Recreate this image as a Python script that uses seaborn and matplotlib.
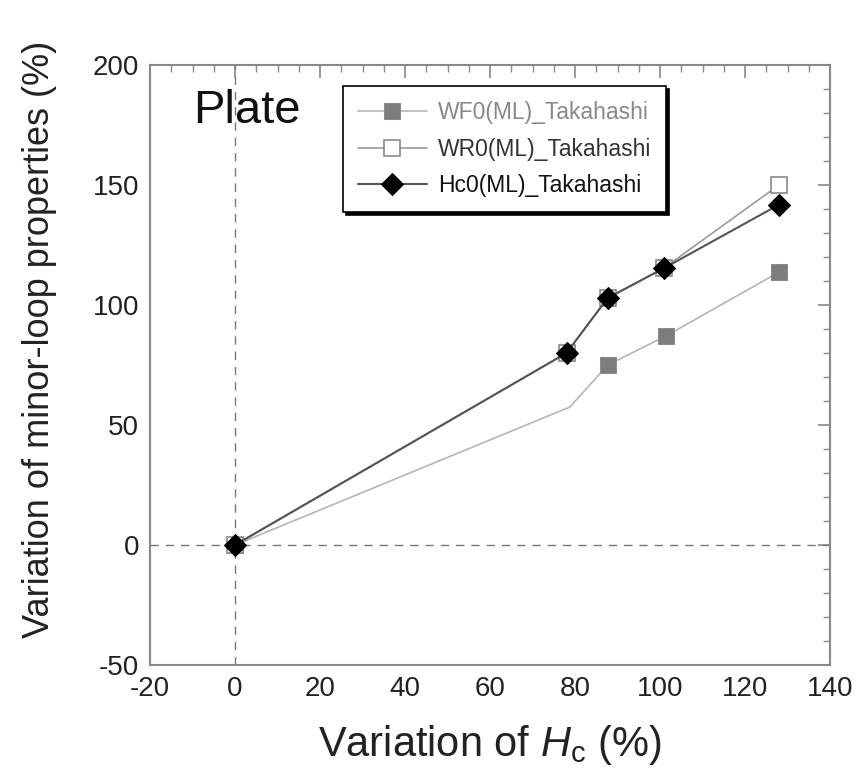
import matplotlib
matplotlib.use("Agg")
import matplotlib.pyplot as plt
from matplotlib.ticker import MultipleLocator
import seaborn as sns
import pandas as pd

# ---- data ----
wf0_x = [0, 78.8, 87.7, 101.3, 128.0]
wf0_y = [0, 57.5, 75.0, 87.0, 113.7]
wr0_x = [0, 78.0, 87.7, 101.0, 128.0]
wr0_y = [0, 80.0, 103.0, 115.5, 150.0]
hc0_x = [0, 78.0, 87.7, 101.0, 128.0]
hc0_y = [0, 80.0, 102.9, 115.4, 141.8]
series_names = ["WF0(ML)_Takahashi", "WR0(ML)_Takahashi", "Hc0(ML)_Takahashi"]
x_ticks = [-20, 0, 20, 40, 60, 80, 100, 120, 140]
y_ticks = [-50, 0, 50, 100, 150, 200]

sns.set_theme(style="white")
plt.rcParams["font.family"] = ["Liberation Sans", "DejaVu Sans"]
plt.rcParams["mathtext.fontset"] = "custom"
plt.rcParams["mathtext.rm"] = "Liberation Sans"
plt.rcParams["mathtext.it"] = "Liberation Sans:italic"
plt.rcParams["axes.unicode_minus"] = False

fig = plt.figure(figsize=(8.58, 7.84), dpi=100)
ax = fig.add_axes([150 / 858, 1 - 665 / 784, 680 / 858, 600 / 784])

# reference lines
ax.axvline(0, color="#777777", lw=1.0, ls=(0, (6, 5)), zorder=1)
ax.axhline(0, color="#777777", lw=1.0, ls=(0, (6, 5)), zorder=1)

df_wf = pd.DataFrame({"x": wf0_x, "y": wf0_y})
df_wr = pd.DataFrame({"x": wr0_x, "y": wr0_y})
df_hc = pd.DataFrame({"x": hc0_x, "y": hc0_y})

sns.lineplot(data=df_wf, x="x", y="y", ax=ax, estimator=None, sort=False,
             color="#b5b5b5", lw=1.2, marker="s", markersize=12,
             markerfacecolor="#7d7d7d", markeredgecolor="#8a8a8a",
             markevery=[0, 2, 3, 4], label=series_names[0], zorder=3)
sns.lineplot(data=df_wr, x="x", y="y", ax=ax, estimator=None, sort=False,
             color="#9a9a9a", lw=1.2, marker="s", markersize=12,
             markerfacecolor="white", markeredgecolor="#8a8a8a", markeredgewidth=1.2,
             label=series_names[1], zorder=4)
sns.lineplot(data=df_hc, x="x", y="y", ax=ax, estimator=None, sort=False,
             color="#555555", lw=1.5, marker="D", markersize=11,
             markerfacecolor="black", markeredgecolor="black",
             label=series_names[2], zorder=5)

ax.set_xlim(-20, 140)
ax.set_ylim(-50, 200)
ax.set_xticks(x_ticks)
ax.set_yticks(y_ticks)
ax.xaxis.set_minor_locator(MultipleLocator(5))
ax.yaxis.set_minor_locator(MultipleLocator(10))
ax.tick_params(which="both", direction="in", top=True, right=True, color="#888888")
ax.tick_params(which="major", length=9, width=1.2, labelsize=20, pad=8, labelcolor="#222222")
ax.tick_params(which="minor", length=5, width=1.0)
for s in ax.spines.values():
    s.set_color("#888888")
    s.set_linewidth(1.5)

ax.set_xlabel(r"Variation of $\mathit{H}_{\mathrm{c}}$ (%)", fontsize=30, color="#222222", labelpad=15)
ax.set_ylabel("Variation of minor-loop properties (%)", fontsize=26, color="#222222")
ax.yaxis.set_label_coords(-0.137, 0.542)

ax.text(-9.8, 176, "Plate", fontsize=34, color="#111111", ha="left", va="baseline")

leg = ax.legend(loc="upper left", bbox_to_anchor=(193 / 680, 1 - 21 / 600),
                frameon=True, fancybox=False, shadow={"color": "black", "alpha": 1.0},
                fontsize=16.5, handlelength=3.0, borderpad=0.65, labelspacing=0.6,
                handletextpad=0.5, borderaxespad=0)
leg.get_frame().set_edgecolor("black")
leg.get_frame().set_linewidth(1.2)
leg.get_frame().set_alpha(1.0)
tcolors = ["#888888", "#333333", "#111111"]
for t, c in zip(leg.get_texts(), tcolors):
    t.set_color(c)

fig.savefig("out.png", dpi=100)
